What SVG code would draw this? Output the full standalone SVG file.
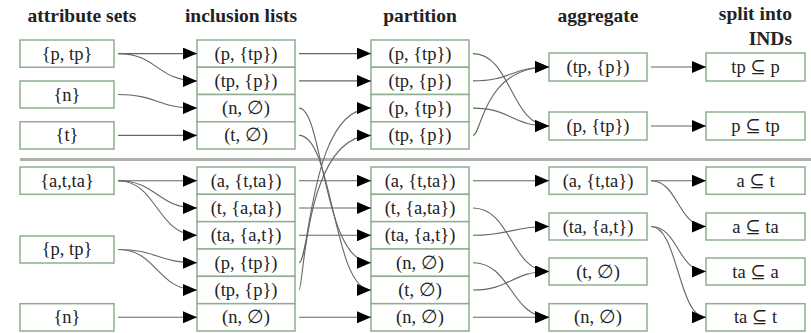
<svg xmlns="http://www.w3.org/2000/svg" width="811" height="333" viewBox="0 0 811 333">
<style>
.b{fill:#fff;stroke:#8fae8f;stroke-width:1.5}
.t{font-family:"Liberation Serif","DejaVu Serif",serif;font-size:18.5px;fill:#222;text-anchor:middle}
.h{font-family:"Liberation Serif","DejaVu Serif",serif;font-size:19.5px;font-weight:bold;fill:#222;text-anchor:middle}
.c path{fill:none;stroke:#666;stroke-width:1.1;marker-end:url(#a)}
</style>
<defs>
<marker id="a" markerUnits="userSpaceOnUse" markerWidth="14" markerHeight="12" refX="14" refY="6" orient="auto">
<path d="M0,0 L14,6 L0,12 z" fill="#000"/>
</marker>
</defs>
<rect width="811" height="333" fill="#fff"/>
<g id="headers">
<text class="h" x="82" y="22">attribute sets</text>
<text class="h" x="241" y="22">inclusion lists</text>
<text class="h" x="420" y="22">partition</text>
<text class="h" x="598" y="22">aggregate</text>
<text class="h" x="792" y="20" style="text-anchor:end">split into</text>
<text class="h" x="792" y="45" style="text-anchor:end">INDs</text>
</g>
<line id="separator" x1="20" y1="159.5" x2="811" y2="159.5" stroke="#b0b0b0" stroke-width="3"/>
<g id="attr-ptp1"><rect class="b" x="20" y="40" width="94" height="27.25"/><text class="t" x="67" y="59.5">{p, tp}</text></g>
<g id="attr-n1"><rect class="b" x="20" y="81" width="94" height="27"/><text class="t" x="67" y="100.5">{n}</text></g>
<g id="attr-t1"><rect class="b" x="20" y="121.75" width="94" height="27.25"/><text class="t" x="67" y="141.3">{t}</text></g>
<g id="attr-atta"><rect class="b" x="20" y="167" width="94" height="27.33"/><text class="t" x="67" y="186.6">{a,t,ta}</text></g>
<g id="attr-ptp2"><rect class="b" x="20" y="236" width="94" height="27"/><text class="t" x="67" y="255.4">{p, tp}</text></g>
<g id="attr-n2"><rect class="b" x="20" y="303.67" width="94" height="27.33"/><text class="t" x="67" y="323.2">{n}</text></g>
<g id="incl-1"><rect class="b" x="197" y="40" width="98" height="27.25"/><text class="t" x="246" y="59.5">(p, {tp})</text></g>
<g id="incl-2"><rect class="b" x="197" y="67.25" width="98" height="27.25"/><text class="t" x="246" y="86.8">(tp, {p})</text></g>
<g id="incl-3"><rect class="b" x="197" y="94.5" width="98" height="27.25"/><text class="t" x="246" y="114">(n, ∅)</text></g>
<g id="incl-4"><rect class="b" x="197" y="121.75" width="98" height="27.25"/><text class="t" x="246" y="141.3">(t, ∅)</text></g>
<g id="incl-5"><rect class="b" x="197" y="167" width="98" height="27.33"/><text class="t" x="246" y="186.6">(a, {t,ta})</text></g>
<g id="incl-6"><rect class="b" x="197" y="194.33" width="98" height="27.33"/><text class="t" x="246" y="213.9">(t, {a,ta})</text></g>
<g id="incl-7"><rect class="b" x="197" y="221.67" width="98" height="27.33"/><text class="t" x="246" y="241.2">(ta, {a,t})</text></g>
<g id="incl-8"><rect class="b" x="197" y="249" width="98" height="27.33"/><text class="t" x="246" y="268.6">(p, {tp})</text></g>
<g id="incl-9"><rect class="b" x="197" y="276.33" width="98" height="27.33"/><text class="t" x="246" y="295.9">(tp, {p})</text></g>
<g id="incl-10"><rect class="b" x="197" y="303.67" width="98" height="27.33"/><text class="t" x="246" y="323.2">(n, ∅)</text></g>
<g id="part-1"><rect class="b" x="371" y="40" width="98" height="27.25"/><text class="t" x="420" y="59.5">(p, {tp})</text></g>
<g id="part-2"><rect class="b" x="371" y="67.25" width="98" height="27.25"/><text class="t" x="420" y="86.8">(tp, {p})</text></g>
<g id="part-3"><rect class="b" x="371" y="94.5" width="98" height="27.25"/><text class="t" x="420" y="114">(p, {tp})</text></g>
<g id="part-4"><rect class="b" x="371" y="121.75" width="98" height="27.25"/><text class="t" x="420" y="141.3">(tp, {p})</text></g>
<g id="part-5"><rect class="b" x="371" y="167" width="98" height="27.33"/><text class="t" x="420" y="186.6">(a, {t,ta})</text></g>
<g id="part-6"><rect class="b" x="371" y="194.33" width="98" height="27.33"/><text class="t" x="420" y="213.9">(t, {a,ta})</text></g>
<g id="part-7"><rect class="b" x="371" y="221.67" width="98" height="27.33"/><text class="t" x="420" y="241.2">(ta, {a,t})</text></g>
<g id="part-8"><rect class="b" x="371" y="249" width="98" height="27.33"/><text class="t" x="420" y="268.6">(n, ∅)</text></g>
<g id="part-9"><rect class="b" x="371" y="276.33" width="98" height="27.33"/><text class="t" x="420" y="295.9">(t, ∅)</text></g>
<g id="part-10"><rect class="b" x="371" y="303.67" width="98" height="27.33"/><text class="t" x="420" y="323.2">(n, ∅)</text></g>
<g id="agg-1"><rect class="b" x="549" y="53" width="98" height="28"/><text class="t" x="598" y="73">(tp, {p})</text></g>
<g id="agg-2"><rect class="b" x="549" y="112" width="98" height="28"/><text class="t" x="598" y="132">(p, {tp})</text></g>
<g id="agg-3"><rect class="b" x="549" y="167" width="98" height="27.33"/><text class="t" x="598" y="186.6">(a, {t,ta})</text></g>
<g id="agg-4"><rect class="b" x="549" y="213" width="98" height="27"/><text class="t" x="598" y="232.5">(ta, {a,t})</text></g>
<g id="agg-5"><rect class="b" x="549" y="258" width="98" height="27"/><text class="t" x="598" y="277.5">(t, ∅)</text></g>
<g id="agg-6"><rect class="b" x="549" y="303.67" width="98" height="27.33"/><text class="t" x="598" y="323.2">(n, ∅)</text></g>
<g id="split-1"><rect class="b" x="706" y="53" width="99" height="28"/><text class="t" x="755.5" y="73">tp ⊆ p</text></g>
<g id="split-2"><rect class="b" x="706" y="112" width="99" height="28"/><text class="t" x="755.5" y="132">p ⊆ tp</text></g>
<g id="split-3"><rect class="b" x="706" y="167" width="99" height="27.33"/><text class="t" x="755.5" y="186.6">a ⊆ t</text></g>
<g id="split-4"><rect class="b" x="706" y="213" width="99" height="27"/><text class="t" x="755.5" y="232.5">a ⊆ ta</text></g>
<g id="split-5"><rect class="b" x="706" y="258" width="99" height="27"/><text class="t" x="755.5" y="277.5">ta ⊆ a</text></g>
<g id="split-6"><rect class="b" x="706" y="303.67" width="99" height="27.33"/><text class="t" x="755.5" y="323.2">ta ⊆ t</text></g>
<g id="connectors" class="c">
<path d="M118,53.6 L197,53.6"/>
<path d="M118,53.6 C157,53.6 157,80.9 197,80.9"/>
<path d="M118,94.5 C157,94.5 157,108.1 197,108.1"/>
<path d="M118,135.4 L197,135.4"/>
<path d="M299,53.6 L371,53.6"/>
<path d="M299,80.9 L371,80.9"/>
<path d="M299,108.1 C323,108.1 323,262.7 371,262.7"/>
<path d="M299,135.4 C333,135.4 333,290 371,290"/>
<path d="M299,262.7 C310,262.7 310,108.1 371,108.1"/>
<path d="M299,290 C304,290 304,135.4 371,135.4"/>
<path d="M473,53.6 C511,53.6 511,126 549,126"/>
<path d="M473,80.9 C511,80.9 511,67 549,67"/>
<path d="M473,108.1 C511,108.1 511,126 549,126"/>
<path d="M473,135.4 C482,135.4 482,67 549,67"/>
<path d="M651,67 L706,67"/>
<path d="M651,126 L706,126"/>
<path d="M118,180.7 L197,180.7"/>
<path d="M118,180.7 C157,180.7 157,208 197,208"/>
<path d="M118,180.7 C157,180.7 157,235.3 197,235.3"/>
<path d="M118,249.5 C157,249.5 157,262.7 197,262.7"/>
<path d="M118,249.5 C157,249.5 157,290 197,290"/>
<path d="M118,317.3 L197,317.3"/>
<path d="M299,180.7 L371,180.7"/>
<path d="M299,208 L371,208"/>
<path d="M299,235.3 L371,235.3"/>
<path d="M299,317.3 L371,317.3"/>
<path d="M473,180.7 L549,180.7"/>
<path d="M473,208 C511,208 511,271.5 549,271.5"/>
<path d="M473,235.3 C511,235.3 511,226.5 549,226.5"/>
<path d="M473,262.7 C511,262.7 511,317.3 549,317.3"/>
<path d="M473,290 C511,290 511,271.5 549,271.5"/>
<path d="M473,317.3 L549,317.3"/>
<path d="M651,180.7 L706,180.7"/>
<path d="M651,180.7 C678,180.7 678,226.5 706,226.5"/>
<path d="M651,226.5 C678,226.5 678,271.5 706,271.5"/>
<path d="M651,226.5 C678,226.5 678,317.3 706,317.3"/>
</g>
</svg>
